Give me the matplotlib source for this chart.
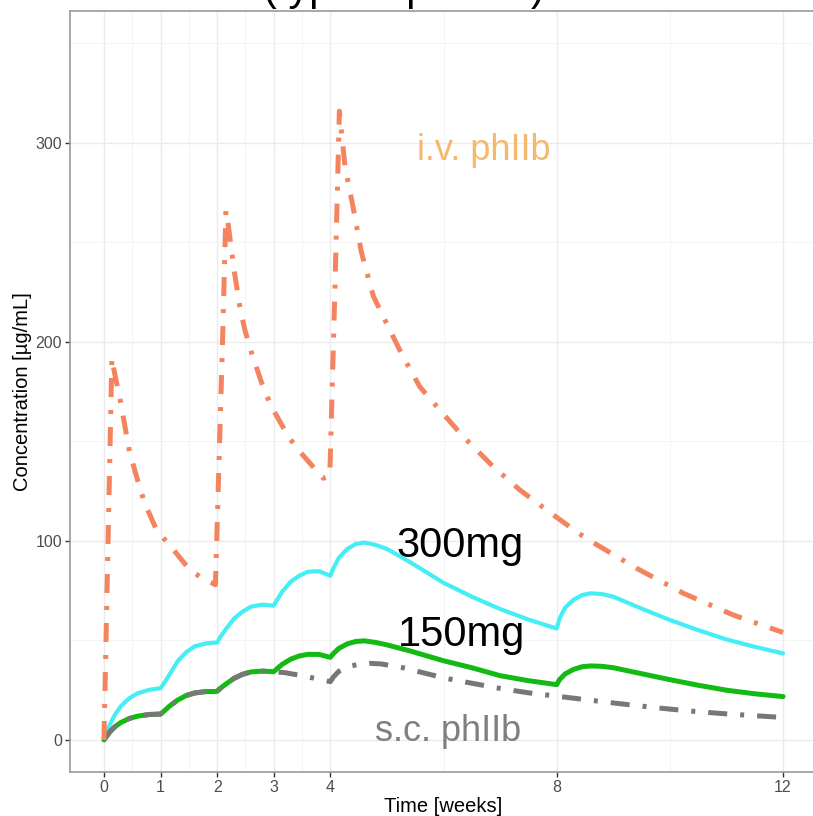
import numpy as np
import matplotlib.pyplot as plt

plt.rcParams['font.family'] = ['Liberation Sans', 'DejaVu Sans']

# i.v. phase IIb regimen (doses at weeks 0, 2 and 4)
iv_t = [0, 0.047, 0.14, 0.19, 0.28, 0.45, 0.61, 0.72, 0.93, 1.23, 1.52, 1.70, 1.97,
        2.10, 2.155, 2.2, 2.3, 2.4, 2.49, 2.62, 2.81, 2.96, 3.26, 3.46, 3.875, 3.99,
        4.08, 4.16, 4.26, 4.38, 4.55, 4.76, 5.0, 5.26, 5.58, 5.99, 6.35, 6.88, 7.35,
        7.82, 8.38, 8.62, 9.41, 10.24, 11.12, 12.0]
iv_c = [0, 65, 192, 184, 172, 145, 129, 119, 105.5, 95.5, 85.4, 82, 78,
        205, 266, 258, 236, 218, 206, 193.5, 177.5, 167.5, 152.4, 144.9, 131.5, 132.5,
        225, 316, 288, 271, 245, 223, 209, 194, 177.5, 164, 152.4, 137.3, 125.6,
        115.6, 104, 99.6, 86.3, 73.7, 62.8, 54]

# s.c. weekly then monthly dosing, 300 mg and 150 mg
sc_t = [0, 0.1, 0.2, 0.3, 0.45, 0.6, 0.8, 1.0, 1.05, 1.15, 1.3, 1.45, 1.6, 1.8, 2.0,
        2.05, 2.15, 2.3, 2.45, 2.6, 2.8, 3.0, 3.05, 3.15, 3.3, 3.45, 3.6, 3.8, 4.0,
        4.05, 4.15, 4.3, 4.45, 4.6, 4.8, 5.0, 5.4, 6.0, 6.5, 7.0, 7.5, 8.0,
        8.05, 8.15, 8.3, 8.45, 8.6, 8.8, 9.0, 9.5, 10.0, 10.5, 11.0, 11.5, 12.0]
c_300 = [0, 7.5, 13, 17, 21, 23.5, 25.2, 26, 28, 32.5, 39.5, 44, 47, 48.5, 49,
         51.5, 55.5, 61, 64.5, 67, 68, 67.5, 70, 74.5, 79.5, 82.5, 84.5, 84.8, 82.5,
         86, 91.5, 96, 98.5, 99.2, 98, 96, 89.5, 79, 72, 65.8, 60.5, 56,
         61, 66.5, 70.5, 72.8, 73.7, 73.3, 72, 66, 60.3, 55.2, 50.5, 46.8, 43.5]
c_150 = [0, 4, 6.8, 8.8, 10.8, 12, 12.8, 13, 14.2, 16.8, 20, 22.3, 23.6, 24.3, 24.4,
         25.8, 28, 31, 33, 34.2, 34.6, 34.3, 35.6, 38, 40.6, 42.2, 43, 43, 41.5,
         43.3, 46, 48.3, 49.5, 49.8, 49, 47.8, 44.8, 39.8, 36.3, 32.3, 29.8, 27.8,
         30.3, 33.2, 35.5, 36.8, 37.2, 37, 36.3, 33.3, 30.3, 27.5, 25, 23.2, 21.8]

# s.c. phase IIb regimen
ph2_t = [0, 0.1, 0.2, 0.3, 0.45, 0.6, 0.8, 1.0, 1.05, 1.15, 1.3, 1.45, 1.6, 1.8, 2.0,
         2.05, 2.15, 2.3, 2.45, 2.6, 2.8, 3.0, 3.2, 3.5, 3.8, 4.0,
         4.05, 4.15, 4.3, 4.5, 4.7, 4.9, 5.3, 6.0, 6.5, 7.0, 7.5, 8.0, 8.5, 9.0,
         9.5, 10.0, 10.5, 11.0, 11.5, 12.0]
ph2_c = [0, 4, 6.8, 8.8, 10.8, 12, 12.8, 13, 14.2, 16.8, 20, 22.3, 23.6, 24.3, 24.4,
         25.8, 28, 31, 33, 34.2, 34.6, 34.3, 33.8, 32.3, 30.5, 29.3,
         31.5, 34.5, 36.8, 38, 38.5, 38.2, 36.2, 31.2, 28.5, 25.9, 23.7, 22, 20.3, 18.6,
         17, 15.5, 14.2, 13.1, 12.2, 11.3]

x_major = [0, 1, 2, 3, 4, 8, 12]
x_minor = [0.5, 1.5, 2.5, 3.5, 6, 10]
y_major = [0, 100, 200, 300]
y_minor = [50, 150, 250, 350]

fig = plt.figure(figsize=(8.13, 8.16), dpi=100)
ax = fig.add_axes([70 / 813, 44 / 816, 747 / 813, 761 / 816])

for x in x_major:
    ax.axvline(x, color='#EBEBEB', lw=1.0, zorder=0)
for x in x_minor:
    ax.axvline(x, color='#F2F2F2', lw=0.6, zorder=0)
for y in y_major:
    ax.axhline(y, color='#EBEBEB', lw=1.0, zorder=0)
for y in y_minor:
    ax.axhline(y, color='#F2F2F2', lw=0.6, zorder=0)

dotdash = (0, (3.8, 2.6, 0.8, 2.6))
ax.plot(sc_t, c_300, color='#45EEF5', lw=3.0, solid_capstyle='round', zorder=2)
ax.plot(sc_t, c_150, color='#14BA14', lw=3.6, solid_capstyle='round', zorder=3)
ax.plot(ph2_t, ph2_c, color='#777777', lw=3.6, ls=dotdash, dash_capstyle='butt', zorder=4)
ax.plot(iv_t, iv_c, color='#F4845F', lw=3.6, ls=dotdash, dash_capstyle='butt', zorder=5)

ax.text(5.53, 291.5, 'i.v. phIIb', color='#F5B96E', fontsize=26, va='baseline')
ax.text(5.16, 92, '300mg', color='black', fontsize=30, va='baseline')
ax.text(5.19, 47, '150mg', color='black', fontsize=30, va='baseline')
ax.text(4.79, -0.5, 's.c. phIIb', color='#7F7F7F', fontsize=26, va='baseline')

ax.set_xlim(-0.6, 12.6)
ax.set_ylim(-16.1, 366.3)
ax.set_xticks(x_major)
ax.set_yticks(y_major)
ax.tick_params(length=3.6, width=1.0, color='#333333', labelcolor='#4D4D4D',
               labelsize=11.5, pad=2.2)
for s in ax.spines.values():
    s.set_color('#9A9A9A')
    s.set_linewidth(1.2)

ax.set_xlabel('Time [weeks]', fontsize=14.5, va='center')
ax.xaxis.set_label_coords(0.5, -0.0447)
ax.set_ylabel('Concentration [µg/mL]', fontsize=14.5, va='center')
ax.yaxis.set_label_coords(-0.064, 0.5)

# title sits above the top edge; only its lower part shows
fig.text(404 / 813, 1.0, '(typical patient)', fontsize=30,
         ha='center', va='baseline')

fig.savefig('out.png', dpi=100)
